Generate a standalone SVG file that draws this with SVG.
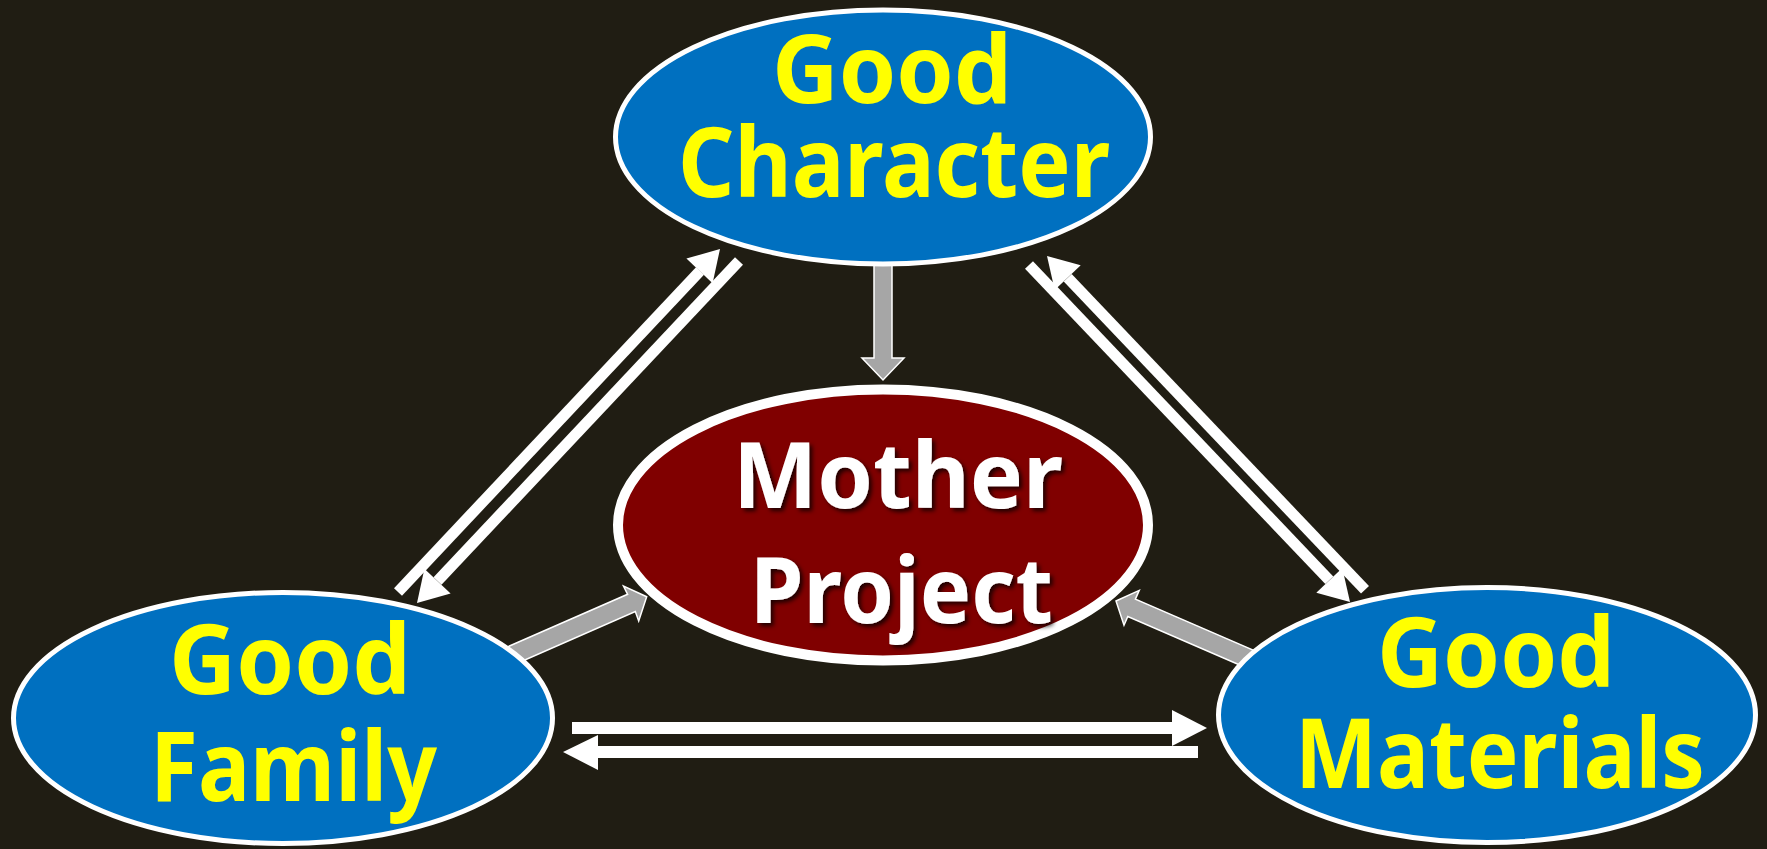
<svg xmlns="http://www.w3.org/2000/svg" width="1767" height="849" viewBox="0 0 1767 849">
<defs>
<style>
.wl{stroke:#FFFFFF;stroke-width:11;fill:none}
.wh{fill:#FFFFFF}
.ga{fill:#A6A6A6;stroke:#FFFFFF;stroke-width:1.5}
.blue{fill:#0070C0;stroke:#FFFFFF;stroke-width:5}
.red{fill:#800000;stroke:#FFFFFF;stroke-width:10}
.ty{fill:#FFFF00;font-family:"Noto Sans","Open Sans","DejaVu Sans",sans-serif;font-weight:700;text-anchor:middle}
.tw{fill:#FFFFFF;font-family:"Noto Sans","Open Sans","DejaVu Sans",sans-serif;font-weight:700;text-anchor:middle}
</style>
<filter id="sh" x="-10%" y="-10%" width="130%" height="130%">
<feDropShadow dx="3" dy="3" stdDeviation="2" flood-color="#000000" flood-opacity="0.75"/>
</filter>
</defs>
<rect width="1767" height="849" fill="#201D13"/>
<g id="connectors">
<line class="wl" x1="398" y1="592" x2="700" y2="271"/>
<polygon class="wh" points="720,249 712.6,283.2 686.4,258.6"/>
<line class="wl" x1="437.5" y1="581" x2="739" y2="261"/>
<polygon class="wh" points="417,603 450.6,593.4 424.4,568.8"/>
<line class="wl" x1="1029" y1="265" x2="1329.3" y2="580.3"/>
<polygon class="wh" points="1350,602 1342.3,567.9 1316.3,592.7"/>
<line class="wl" x1="1067.7" y1="277.7" x2="1365" y2="589.8"/>
<polygon class="wh" points="1047,256 1080.7,265.3 1054.7,290.1"/>
<line class="wl" x1="572" y1="728" x2="1173" y2="728" style="stroke-width:12"/>
<polygon class="wh" points="1172,710 1207,728 1172,746"/>
<line class="wl" x1="1198" y1="752" x2="597" y2="752" style="stroke-width:12"/>
<polygon class="wh" points="598,735 563,752 598,770"/>
<polygon class="ga" points="874,255 892,255 892,358 904,358 883,380 862,358 874,358"/>
<polygon class="ga" points="504.2,669 635.3,611.6 638.7,620.9 646.7,596.7 623.5,586.1 627.6,594.3 496.6,651.6"/>
<polygon class="ga" points="1262.8,675 1127.8,616.5 1124,625.2 1116,601 1139.2,590.4 1135.4,599.1 1270.4,657.6"/>
</g>
<g id="node-character">
<ellipse class="blue" cx="883" cy="137" rx="267.5" ry="127"/>
<text class="ty" font-size="95" x="892" y="103" textLength="240" lengthAdjust="spacingAndGlyphs">Good</text>
<text class="ty" font-size="97" x="894" y="197" textLength="432" lengthAdjust="spacingAndGlyphs">Character</text>
</g>
<g id="node-mother">
<ellipse class="red" cx="883" cy="525" rx="265" ry="135.5"/>
<text class="tw" filter="url(#sh)" font-size="92" x="898" y="508" textLength="330" lengthAdjust="spacingAndGlyphs">Mother</text>
<text class="tw" filter="url(#sh)" font-size="92" x="901.5" y="623" textLength="303" lengthAdjust="spacingAndGlyphs">Project</text>
</g>
<g id="node-family">
<ellipse class="blue" cx="283" cy="718" rx="269.5" ry="125.5"/>
<text class="ty" font-size="96" x="290" y="694" textLength="242" lengthAdjust="spacingAndGlyphs">Good</text>
<text class="ty" font-size="96" x="293.5" y="801" textLength="287" lengthAdjust="spacingAndGlyphs">Family</text>
</g>
<g id="node-materials">
<ellipse class="blue" cx="1487" cy="715" rx="268.5" ry="127.5"/>
<text class="ty" font-size="96" x="1496" y="687" textLength="238" lengthAdjust="spacingAndGlyphs">Good</text>
<text class="ty" font-size="96" x="1500" y="788" textLength="410" lengthAdjust="spacingAndGlyphs">Materials</text>
</g>
</svg>
